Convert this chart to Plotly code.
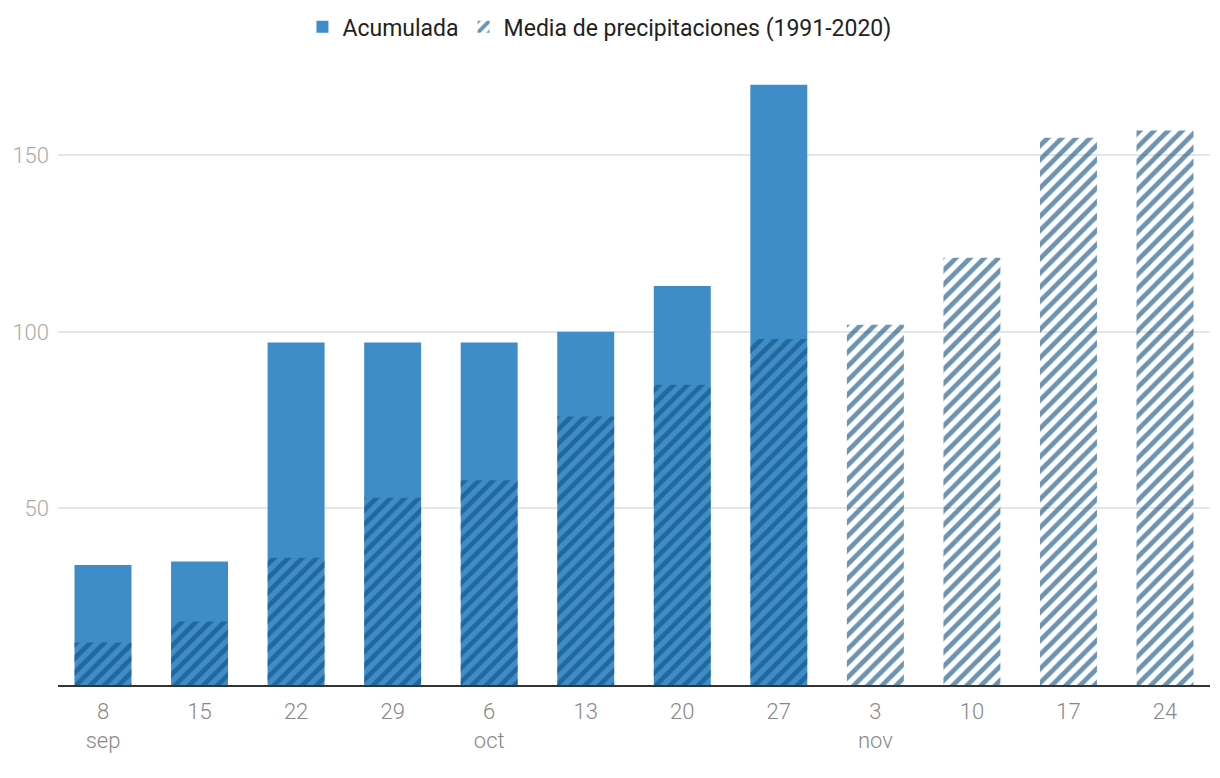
import plotly.graph_objects as go

dias = ["8", "15", "22", "29", "6", "13", "20", "27", "3", "10", "17", "24"]
etiquetas = ["8<br>sep", "15", "22", "29", "6<br>oct", "13", "20", "27", "3<br>nov", "10", "17", "24"]
acumulada = [34, 35, 97, 97, 97, 100, 113, 170, None, None, None, None]
media = [12, 18, 36, 53, 58, 76, 85, 98, 102, 121, 155, 157]
ticks_y = [50, 100, 150]

x = list(range(len(dias)))

fig = go.Figure()
fig.add_trace(go.Bar(
    x=x, y=acumulada, name="Acumulada",
    marker=dict(color="#3f8dc8", line=dict(width=0)),
    width=0.59,
))
fig.add_trace(go.Bar(
    x=x, y=media, name="Media de precipitaciones (1991-2020)",
    marker=dict(
        color="rgba(0,0,0,0)", line=dict(width=0),
        pattern=dict(shape="/", fgcolor="rgba(15,80,130,0.62)", bgcolor="rgba(0,0,0,0)",
                     size=10, solidity=0.48, fillmode="replace"),
    ),
    width=0.59,
))

fig.update_layout(
    width=1220, height=778,
    barmode="overlay",
    plot_bgcolor="white", paper_bgcolor="white",
    margin=dict(l=50, r=18, t=59, b=101, autoexpand=False),
    font=dict(family="Roboto, sans-serif"),
    legend=dict(orientation="h", x=0.47, xanchor="center", y=1.065, yanchor="middle",
                font=dict(size=23, color="#222"), traceorder="normal"),
    showlegend=True,
)
fig.update_xaxes(
    range=[-0.466, 11.466], tickmode="array", tickvals=x, ticktext=etiquetas,
    showgrid=False, showline=True, linecolor="#333", linewidth=2,
    tickfont=dict(size=22, color="#888", weight=300), ticks="", automargin=False,
    ticklabelstandoff=6,
)
fig.update_yaxes(
    range=[0, 175], tickvals=ticks_y, showgrid=True, gridcolor="#e6e6e6", gridwidth=1.5,
    zeroline=False, tickfont=dict(size=22, color="#aaa", weight=300), ticks="", ticklabelstandoff=8,
    automargin=False,
)

fig.write_html("out.html")
